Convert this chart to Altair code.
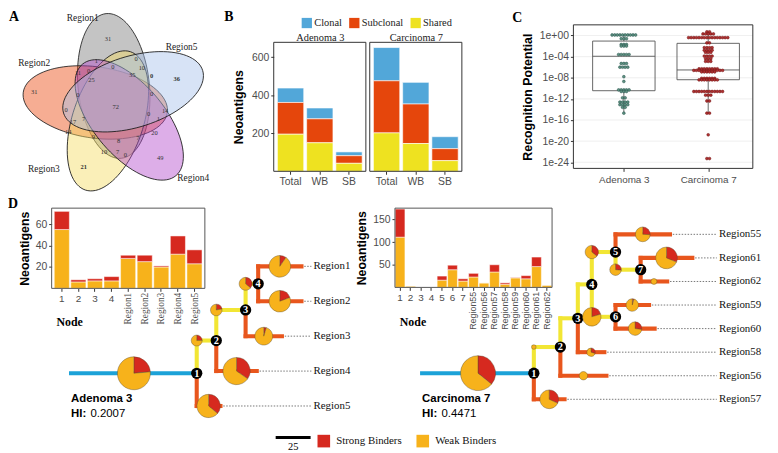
import math
import altair as alt
import pandas as pd

S = 0.98
W, H = 770, 445


def X(v):
    return round(v * S, 2)


def Y(v):
    return round(v * S, 2)


SANS = "Liberation Sans"
SERIF = "Liberation Serif"
GREY = "#4D4D4D"
DARK = "#333333"

# ---------------- Panel A data ----------------
venn_regions = ["Region1", "Region2", "Region3", "Region4", "Region5"]
venn_colors = ["#7D7D7D", "#EB4A10", "#F3DB61", "#B34BCB", "#A6C2EC"]
venn_counts = ["31", "31", "49", "72", "1", "0", "0", "10", "11", "0", "25", "35",
               "0", "0", "0", "7", "0", "1", "14", "17", "14", "9", "8", "7", "20",
               "10", "7", "0"]
venn_counts_bold = ["36", "21", "0"]

# ---------------- Panel B data ----------------
b_types = ["Total", "WB", "SB"]
b_classes = ["Clonal", "Subclonal", "Shared"]
b_colors = ["#52A7D9", "#E5460C", "#EEE220"]
adenoma_clonal = [76, 57, 20]
adenoma_subclonal = [167, 126, 40]
adenoma_shared = [195, 150, 42]
carcinoma_clonal = [175, 114, 63]
carcinoma_subclonal = [274, 208, 63]
carcinoma_shared = [202, 146, 56]

# ---------------- Panel C data ----------------
c_samples = ["Adenoma 3", "Carcinoma 7"]
adenoma_rp_exponent = [0.1, -0.6, -1.7, -2.0, -3.6, -5.3, -6.0, -7.8, -8.7, -10.3, -10.6,
                       -11.8, -12.6, -13.1, -13.6, -14.7]
adenoma_rp_count = [10, 3, 3, 3, 5, 3, 4, 1, 1, 5, 3, 2, 4, 4, 2, 1]
carcinoma_rp_exponent = [0.7, 0.3, -0.4, -1.4, -2.3, -2.8, -3.2, -3.9, -4.4, -4.9, -6.3,
                         -6.6, -6.9, -8.1, -8.4, -10.6, -11.3, -12.4, -14.7, -18.8, -23.3]
carcinoma_rp_count = [2, 5, 16, 2, 4, 4, 3, 4, 3, 3, 8, 12, 6, 6, 8, 12, 3, 2, 2, 1, 2]
box_q1 = [-10.45, -8.37]
box_median = [-3.93, -6.52]
box_q3 = [-1.05, -1.48]
whisker_low = [-14.7, -14.7]
whisker_high = [0.1, 0.7]
c_ticks = [0, -4, -8, -12, -16, -20, -24]

# ---------------- Panel D data ----------------
adenoma_nodes = ["1", "2", "3", "4", "Region1", "Region2", "Region3", "Region4", "Region5"]
adenoma_weak = [55, 6, 7, 7, 28, 25, 20, 32, 23]
adenoma_strong = [17, 2, 2, 4, 3, 6, 1, 17, 13]
carcinoma_nodes = ["1", "2", "3", "4", "5", "6", "7", "Region55", "Region56", "Region57",
                   "Region58", "Region59", "Region60", "Region61", "Region62"]
carcinoma_weak = [111, 3, 0, 0, 16, 39, 14, 23, 10, 34, 7, 21, 19, 46, 5]
carcinoma_strong = [62, 0, 0, 0, 9, 10, 5, 8, 0, 16, 3, 1, 7, 21, 0]

# tree edges: (child, parent, branch length)
adenoma_edges = [("1", None, 90), ("2", "1", 14), ("3", "2", 21), ("4", "3", 9),
                 ("Region1", "4", 31), ("Region2", "4", 31), ("Region3", "3", 26),
                 ("Region4", "2", 29), ("Region5", "1", 17)]
adenoma_leaves = ["Region1", "Region2", "Region3", "Region4", "Region5"]
carcinoma_edges = [("1", None, 80), ("2", "1", 19), ("3", "2", 12.5), ("4", "3", 10),
                   ("5", "4", 17), ("6", "4", 17), ("7", "5", 18), ("Region55", "5", 39),
                   ("Region61", "7", 37), ("Region62", "7", 19), ("Region59", "6", 24),
                   ("Region60", "6", 28), ("Region58", "3", 19), ("Region56", "2", 33),
                   ("Region57", "1", 22)]
carcinoma_leaves = ["Region55", "Region61", "Region62", "Region59", "Region60",
                    "Region58", "Region56", "Region57"]
binder_names = ["Strong Binders", "Weak Binders"]
binder_colors = ["#D6291F", "#F7B21B"]
edge_kinds = ["trunk", "shared", "private"]
edge_colors = ["#1CA2D8", "#F2E634", "#E8561D"]

ONE = pd.DataFrame({"k": [0]})
layers = []


def txt(text, x, y, size=10, font=SANS, weight="normal", align="left",
        baseline="middle", color="black", angle=None):
    kw = dict(text=text, font=font, fontSize=size, fontWeight=weight, align=align,
              baseline=baseline, color=color)
    if angle is not None:
        kw["angle"] = angle
    return alt.Chart(ONE).mark_text(**kw).encode(x=alt.value(X(x)), y=alt.value(Y(y)))


def frame(x0, y0, x1, y1, color=DARK, width=1.0):
    return alt.Chart(ONE).mark_rect(fill=None, stroke=color, strokeWidth=width).encode(
        x=alt.value(X(x0)), x2=alt.value(X(x1)), y=alt.value(Y(y0)), y2=alt.value(Y(y1)))


# ======================= Panel A: Venn =======================
venn_xs = alt.Scale(domain=[0, 255], range=[X(0), X(255)], nice=False, zero=False)
venn_ys = alt.Scale(domain=[0, 205], range=[Y(0), Y(205)], nice=False, zero=False)

pts = []
for i in range(90):
    t = 2 * math.pi * i / 90
    pts.append(f"{math.cos(t):.4f},{0.49 * math.sin(t):.4f}")
ELLIPSE = "M" + " L".join(pts) + " Z"

# ellipse layout (centre in panel units, rotation in degrees clockwise)
ell_cx = [109, 90, 103, 125, 129]
ell_cy = [78, 95, 114, 113, 84]
ell_ang = [84, 8, 288, 230, 163]
ell_df = pd.DataFrame({"region": venn_regions, "cx": ell_cx, "cy": ell_cy, "ang": ell_ang})
layers.append(
    alt.Chart(ell_df).mark_point(shape=ELLIPSE, filled=True, size=(2 * 75 * S) ** 2,
                                 fillOpacity=0.45, opacity=1, stroke="#1A1A1A",
                                 strokeWidth=0.8, strokeOpacity=1).encode(
        x=alt.X("cx:Q", scale=venn_xs, axis=None),
        y=alt.Y("cy:Q", scale=venn_ys, axis=None),
        angle=alt.Angle("ang:Q", scale=None),
        color=alt.Color("region:N", scale=alt.Scale(domain=venn_regions, range=venn_colors), legend=None),
    )
)
count_pos = [(103, 30), (27, 84), (157, 152), (111, 100), (91, 52), (108, 58), (132, 50),
             (138, 60), (72, 65), (83, 63), (86, 72), (128, 67), (72, 87), (148, 86),
             (60, 103), (78, 112), (145, 107), (155, 112), (162, 104), (67, 115), (62, 126),
             (88, 131), (114, 135), (134, 132), (151, 127), (99, 146), (113, 146), (121, 149)]
bold_pos = [(174, 71), (78, 162), (148, 68)]
cnt_df = pd.DataFrame({"label": venn_counts, "vx": [p[0] for p in count_pos], "vy": [p[1] for p in count_pos]})
bold_df = pd.DataFrame({"label": venn_counts_bold, "vx": [p[0] for p in bold_pos], "vy": [p[1] for p in bold_pos]})
for d, wgt in ((cnt_df, "normal"), (bold_df, "bold")):
    layers.append(
        alt.Chart(d).mark_text(font=SERIF, fontSize=6.5, fontWeight=wgt, color="#333333").encode(
            x=alt.X("vx:Q", scale=venn_xs, axis=None),
            y=alt.Y("vy:Q", scale=venn_ys, axis=None),
            text="label:N",
        )
    )
reg_pos = [(77, 8), (27, 54), (37, 164), (191, 173), (179, 38)]
reg_df = pd.DataFrame({"label": venn_regions, "vx": [p[0] for p in reg_pos], "vy": [p[1] for p in reg_pos]})
layers.append(
    alt.Chart(reg_df).mark_text(font=SERIF, fontSize=9.5, color="#222222").encode(
        x=alt.X("vx:Q", scale=venn_xs, axis=None),
        y=alt.Y("vy:Q", scale=venn_ys, axis=None),
        text="label:N",
    )
)

# ======================= Panel B: stacked bars =======================
b_yscale = alt.Scale(domain=[0, 680], range=[Y(166), Y(32.7)], nice=False, zero=False)


def b_layer(clonal, sub, shared, x0, x1, legend, yaxis):
    df = pd.DataFrame({
        "Type": b_types * 3,
        "Class": ["Clonal"] * 3 + ["Subclonal"] * 3 + ["Shared"] * 3,
        "Count": list(clonal) + list(sub) + list(shared),
    })
    df["stack_order"] = df["Class"].map({"Shared": 0, "Subclonal": 1, "Clonal": 2})
    return alt.Chart(df).mark_bar(stroke="white", strokeWidth=0.6).encode(
        x=alt.X("Type:N", scale=alt.Scale(domain=b_types, range=[X(x0), X(x1)],
                                          paddingInner=0.1, paddingOuter=0.06),
                axis=alt.Axis(orient="bottom", offset=Y(166) - H, title=None, labelAngle=0,
                              domain=False, tickSize=3, labelPadding=2, labelFontSize=10.5)),
        y=alt.Y("Count:Q", stack="zero", scale=b_yscale, axis=yaxis),
        color=alt.Color("Class:N", scale=alt.Scale(domain=b_classes, range=b_colors), legend=legend),
        order=alt.Order("stack_order:Q"),
    )


b_legend = alt.Legend(orient="none", legendX=X(302.5), legendY=Y(7.5), direction="horizontal",
                      title=None, symbolType="square", symbolSize=(10.6 * S) ** 2,
                      symbolStrokeWidth=0, symbolOpacity=1, labelFont=SERIF, labelFontSize=10.5,
                      labelColor="#222222", columnPadding=7, labelOffset=2, padding=0)
b_yaxis = alt.Axis(orient="left", offset=-X(274), values=[200, 400, 600], title="Neoantigens",
                   domain=False, tickSize=3, labelFontSize=10.5, titlePadding=6)
layers.append(b_layer(adenoma_clonal, adenoma_subclonal, adenoma_shared, 276, 367, b_legend, b_yaxis))
layers.append(b_layer(carcinoma_clonal, carcinoma_subclonal, carcinoma_shared, 375, 466, None, None))
layers.append(frame(274, 33, 369, 166))
layers.append(frame(373, 33, 468, 166))
layers.append(txt("Adenoma 3", 322, 29, size=10.5, font=SERIF, align="center", color="#222222"))
layers.append(txt("Carcinoma 7", 421, 29, size=10.5, font=SERIF, align="center", color="#222222"))

# ======================= Panel C: recognition potential =======================
c_xs = alt.Scale(domain=[-0.598, 1.529], range=[X(583), X(768)], nice=False, zero=False)
c_ys = alt.Scale(domain=[-25.16, 2.02], range=[Y(163), Y(15)], nice=False, zero=False)

grid_df = pd.DataFrame({"e": c_ticks})
layers.append(
    alt.Chart(grid_df).mark_rule(color="#EBEBEB", strokeWidth=0.8).encode(
        y=alt.Y("e:Q", scale=c_ys, axis=None),
        x=alt.value(X(583)), x2=alt.value(X(768)),
    )
)
box_df = pd.DataFrame({"g": [0, 1], "q1": box_q1, "med": box_median, "q3": box_q3,
                       "lo": whisker_low, "hi": whisker_high})
box_df["xl"] = box_df["g"] - 0.37
box_df["xr"] = box_df["g"] + 0.37
layers.append(
    alt.Chart(box_df).mark_rule(color="#555555", strokeWidth=0.9).encode(
        x=alt.X("g:Q", scale=c_xs, axis=None), y=alt.Y("hi:Q", scale=c_ys, axis=None), y2="q3:Q"))
layers.append(
    alt.Chart(box_df).mark_rule(color="#555555", strokeWidth=0.9).encode(
        x=alt.X("g:Q", scale=c_xs, axis=None), y=alt.Y("q1:Q", scale=c_ys, axis=None), y2="lo:Q"))
layers.append(
    alt.Chart(box_df).mark_rect(fill=None, stroke="#555555", strokeWidth=0.9).encode(
        x=alt.X("xl:Q", scale=c_xs, axis=None), x2="xr:Q",
        y=alt.Y("q1:Q", scale=c_ys, axis=None), y2="q3:Q"))
layers.append(
    alt.Chart(box_df).mark_rule(color="#555555", strokeWidth=0.9).encode(
        x=alt.X("xl:Q", scale=c_xs, axis=None), x2="xr:Q",
        y=alt.Y("med:Q", scale=c_ys, axis=None)))

dots = []
for g, (exps, cnts) in enumerate(((adenoma_rp_exponent, adenoma_rp_count),
                                   (carcinoma_rp_exponent, carcinoma_rp_count))):
    for e, n in zip(exps, cnts):
        for i in range(n):
            dots.append(dict(sample=c_samples[g], e=e, xpos=g + (i - (n - 1) / 2) * 0.031))
dots_df = pd.DataFrame(dots)
layers.append(
    alt.Chart(dots_df).mark_circle(size=8, opacity=1, strokeWidth=0.5).encode(
        x=alt.X("xpos:Q", scale=c_xs,
                axis=alt.Axis(orient="bottom", offset=Y(163) - H, values=[0, 1],
                              labelExpr="datum.value == 0 ? 'Adenoma 3' : 'Carcinoma 7'",
                              title=None, domain=False, grid=False, tickSize=3,
                              labelFontSize=10, labelPadding=3, labelFlush=False)),
        y=alt.Y("e:Q", scale=c_ys,
                axis=alt.Axis(orient="left", offset=-X(583), values=c_ticks,
                              labelExpr="'1e' + (datum.value >= 0 ? '+' : '-') + (abs(datum.value) < 10 ? '0' : '') + abs(datum.value)",
                              title="Recognition Potential", domain=False, grid=False,
                              tickSize=3, labelFontSize=10.5, titlePadding=5, labelFlush=False)),
        fill=alt.Fill("sample:N", scale=alt.Scale(domain=c_samples, range=["#5E9282", "#B03232"]), legend=None),
        stroke=alt.Stroke("sample:N", scale=alt.Scale(domain=c_samples, range=["#24504A", "#6E1010"]), legend=None),
    )
)
layers.append(frame(583, 15, 768, 163))

# ======================= Panel D: inset bar charts =======================


def inset(nodes, weak, strong, x0, x1, pin, pout, ymax, ybase, ytop, yvals, frame_x0,
          frame_x1, reg_font, reg_size):
    df = pd.DataFrame({"Node": nodes * 2,
                       "Binder": ["Weak Binders"] * len(nodes) + ["Strong Binders"] * len(nodes),
                       "Count": list(weak) + list(strong)})
    df["stack_order"] = df["Binder"].map({"Weak Binders": 0, "Strong Binders": 1})
    xs = alt.Scale(domain=nodes, range=[X(x0), X(x1)], paddingInner=pin, paddingOuter=pout)
    ys = alt.Scale(domain=[0, ymax], range=[Y(ybase), Y(ytop)], nice=False, zero=False)
    out = []
    out.append(
        alt.Chart(df).mark_bar(stroke="white", strokeWidth=0.5).encode(
            x=alt.X("Node:N", scale=xs,
                    axis=alt.Axis(orient="bottom", offset=Y(ybase) - H, title=None, labelAngle=0,
                                  labelExpr="length(datum.label) < 3 ? datum.label : ''",
                                  domain=False, tickSize=3, labelPadding=2, labelFontSize=10)),
            y=alt.Y("Count:Q", stack="zero", scale=ys,
                    axis=alt.Axis(orient="left", offset=-X(frame_x0), values=yvals,
                                  title="Neoantigens", domain=False, tickSize=3,
                                  labelFontSize=10.5, titlePadding=4, titleFontSize=12.5)),
            color=alt.Color("Binder:N", scale=alt.Scale(domain=binder_names, range=binder_colors), legend=None),
            order=alt.Order("stack_order:Q"),
        )
    )
    regions = [n for n in nodes if len(n) > 2]
    out.append(
        alt.Chart(pd.DataFrame({"Node": regions})).mark_text(
            angle=270, align="right", baseline="middle", font=reg_font, fontSize=reg_size,
            color=GREY).encode(
            x=alt.X("Node:N", scale=xs, axis=None),
            y=alt.value(Y(ybase + 4.5)),
            text="Node:N",
        )
    )
    out.append(frame(frame_x0, ytop, frame_x1, ybase, color="#555555"))
    return out


layers += inset(adenoma_nodes, adenoma_weak, adenoma_strong, 46.85, 200.9, 0.09, 0.05,
                75, 286.7, 204, [20, 40, 60], 45, 203, SERIF, 9.5)
layers += inset(carcinoma_nodes, carcinoma_weak, carcinoma_strong, 399, 561, 0.07, 0.02,
                175, 285.7, 204, [50, 100, 150], 399, 561, SANS, 9)
layers.append(txt("Node", 50, 321, size=12, font=SERIF, weight="bold"))
layers.append(txt("Node", 404, 321, size=12, font=SERIF, weight="bold"))

# ======================= Panel D: trees =======================
PX_PER_UNIT = 1.44


def tree(edges, leaves, nodes, weak, strong, x0_px, y0_px, ystep_px, label_px, rmax_count,
         rmax_px, legend):
    length = {c: l for c, p, l in edges}
    children = {}
    for c, p, l in edges:
        children.setdefault(p, []).append(c)
    root = children[None][0]
    xs_ = {}

    def place_x(n, base):
        xs_[n] = base + length[n]
        for ch in children.get(n, []):
            place_x(ch, xs_[n])

    place_x(root, 0.0)
    ys_ = {}

    def place_y(n):
        if n in leaves:
            ys_[n] = float(leaves.index(n))
        else:
            ys_[n] = sum(place_y(ch) for ch in children[n]) / len(children[n])
        return ys_[n]

    place_y(root)

    xsc = alt.Scale(domain=[0, 100], range=[X(x0_px), X(x0_px + 100 * PX_PER_UNIT)], nice=False, zero=False)
    nl = len(leaves) - 1
    ysc = alt.Scale(domain=[0, nl], range=[Y(y0_px), Y(y0_px + ystep_px * nl)], nice=False, zero=False)

    seg = []
    for c, p, l in edges:
        kind = "trunk" if p is None else ("private" if c in leaves else "shared")
        if p is None:
            seg.append(dict(x=0.0, x2=xs_[c], y=ys_[c], y2=ys_[c], kind=kind, o=2))
        else:
            seg.append(dict(x=xs_[p], x2=xs_[p], y=ys_[p], y2=ys_[c], kind=kind, o=0 if kind == "private" else 1))
            seg.append(dict(x=xs_[p], x2=xs_[c], y=ys_[c], y2=ys_[c], kind=kind, o=0 if kind == "private" else 1))
    seg_df = pd.DataFrame(seg).sort_values("o")

    label_u = (label_px - x0_px) / PX_PER_UNIT
    leaf_df = pd.DataFrame([dict(label=n, xe=xs_[n] + 2.0, lx=label_u - 1.5, tx=label_u, y=ys_[n]) for n in leaves])

    wk = dict(zip(nodes, weak))
    st = dict(zip(nodes, strong))
    pies = []
    for c, p, l in edges:
        tot = wk[c] + st[c]
        if tot == 0:
            continue
        start = 0.0 if p is None else xs_[p]
        xp = start + (0.5 * l if (p is None or c in leaves) else 0.0)
        frac = st[c] / tot
        if st[c] > 0:
            pies.append(dict(node=c, x=xp, y=ys_[c], total=tot, t0=0.0, t1=2 * math.pi * frac, binder="Strong Binders"))
        if wk[c] > 0:
            pies.append(dict(node=c, x=xp, y=ys_[c], total=tot, t0=2 * math.pi * frac, t1=2 * math.pi, binder="Weak Binders"))
    pie_df = pd.DataFrame(pies)

    int_df = pd.DataFrame([dict(label=n, x=xs_[n], y=ys_[n]) for n in xs_ if n not in leaves])

    out = []
    out.append(
        alt.Chart(leaf_df).mark_rule(color="#777777", strokeWidth=1, strokeDash=[1.5, 1.5]).encode(
            x=alt.X("xe:Q", scale=xsc, axis=None), x2="lx:Q", y=alt.Y("y:Q", scale=ysc, axis=None)))
    out.append(
        alt.Chart(seg_df).mark_rule(strokeWidth=4.2 * S, strokeCap="square").encode(
            x=alt.X("x:Q", scale=xsc, axis=None), x2="x2:Q",
            y=alt.Y("y:Q", scale=ysc, axis=None), y2="y2:Q",
            color=alt.Color("kind:N", scale=alt.Scale(domain=edge_kinds, range=edge_colors), legend=None),
            order=alt.Order("o:Q"),
        ))
    out.append(
        alt.Chart(int_df).mark_circle(size=135 * S * S, color="black", opacity=1).encode(
            x=alt.X("x:Q", scale=xsc, axis=None), y=alt.Y("y:Q", scale=ysc, axis=None)))
    out.append(
        alt.Chart(int_df).mark_text(color="white", font=SERIF, fontWeight="bold", fontSize=10.5,
                                    baseline="middle", align="center", dy=0.5).encode(
            x=alt.X("x:Q", scale=xsc, axis=None), y=alt.Y("y:Q", scale=ysc, axis=None), text="label:N"))
    out.append(
        alt.Chart(pie_df).mark_arc(stroke="#5A4A30", strokeWidth=0.4).encode(
            x=alt.X("x:Q", scale=xsc, axis=None), y=alt.Y("y:Q", scale=ysc, axis=None),
            theta=alt.Theta("t0:Q", scale=None, stack=None), theta2="t1:Q",
            radius=alt.Radius("total:Q", scale=alt.Scale(type="sqrt", zero=True, domain=[0, rmax_count], range=[0, rmax_px * S])),
            color=alt.Color("binder:N", scale=alt.Scale(domain=binder_names, range=binder_colors), legend=legend),
        ))
    out.append(
        alt.Chart(leaf_df).mark_text(font=SERIF, fontSize=11, align="left", baseline="middle", color="#111111").encode(
            x=alt.X("tx:Q", scale=xsc, axis=None), y=alt.Y("y:Q", scale=ysc, axis=None), text="label:N"))
    return out


d_legend = alt.Legend(orient="none", legendX=X(319), legendY=Y(437.5), direction="horizontal",
                      title=None, symbolType="square", symbolSize=(13 * S) ** 2,
                      symbolStrokeWidth=0, symbolOpacity=1, labelFont=SERIF, labelFontSize=11,
                      labelColor="#111111", columnPadding=14, labelOffset=6, padding=0)
layers += tree(adenoma_edges, adenoma_leaves, adenoma_nodes, adenoma_weak, adenoma_strong,
               65, 264, 36, 315, 72, 17, d_legend)
layers += tree(carcinoma_edges, carcinoma_leaves, carcinoma_nodes, carcinoma_weak, carcinoma_strong,
               427, 231, 24.3, 733, 173, 18, None)

layers.append(txt("Adenoma 3", 65, 401, size=11.5, weight="bold"))
layers.append(txt("HI:", 65, 416, size=11.5, weight="bold"))
layers.append(txt("0.2007", 85, 416, size=11.5))
layers.append(txt("Carcinoma 7", 427, 401, size=11.5, weight="bold"))
layers.append(txt("HI:", 427, 416, size=11.5, weight="bold"))
layers.append(txt("0.4471", 447, 416, size=11.5))

# scale bar
layers.append(alt.Chart(ONE).mark_rule(color="black", strokeWidth=3).encode(
    x=alt.value(X(276)), x2=alt.value(X(312)), y=alt.value(Y(440.5))))
layers.append(txt("25", 294, 450, size=10.5, font=SERIF, align="center"))

# panel letters
layers.append(txt("A", 1, 7, size=14, font=SERIF, weight="bold"))
layers.append(txt("B", 223, 7, size=14, font=SERIF, weight="bold"))
layers.append(txt("C", 520, 8, size=14, font=SERIF, weight="bold"))
layers.append(txt("D", 0, 200, size=14, font=SERIF, weight="bold"))

chart = alt.layer(*layers).resolve_scale(
    x="independent", y="independent", color="independent", radius="independent",
    fill="independent", stroke="independent", size="independent"
).resolve_axis(x="independent", y="independent").resolve_legend(
    color="independent", fill="independent", stroke="independent"
).properties(
    width=W, height=H, autosize=alt.AutoSizeParams(type="none"), padding=0
).configure_view(stroke=None).configure_axis(
    labelFont=SANS, titleFont=SANS, labelColor=GREY, tickColor=DARK, domainColor=DARK,
    titleColor="black", titleFontWeight="bold", titleFontSize=12.5, grid=False,
    labelOverlap=False
)

chart.save("out.html", embed_options={"renderer": "svg", "actions": False})
